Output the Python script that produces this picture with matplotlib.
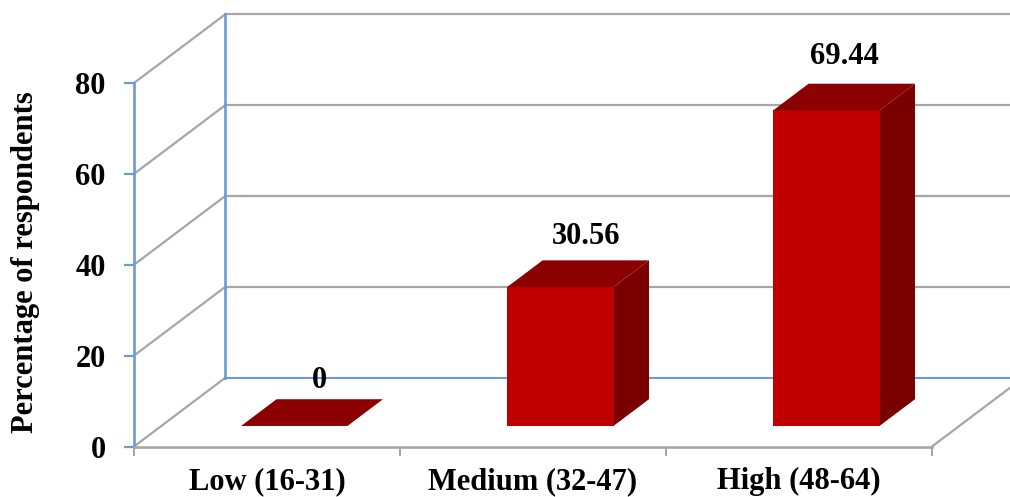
import matplotlib
matplotlib.use('Agg')
import matplotlib.pyplot as plt

plt.rcParams['font.family'] = ['Liberation Serif', 'DejaVu Serif']
plt.rcParams['font.weight'] = 'bold'

# data
categories = ['Low (16-31)', 'Medium (32-47)', 'High (48-64)']
values = [0, 30.56, 69.44]
value_labels = ['0', '30.56', '69.44']
y_ticks = [0, 20, 40, 60, 80]

# fake 3d: how far the back wall is shifted, in data units
DX = 91 / 266
DY = 15.08
BAR_W = 0.40
D_FRONT = 0.30
D_BACK = 0.69

GREY = '#a6a6a6'
BLUE = '#6b9bd2'
RED_FRONT = '#c00000'
RED_TOP = '#8b0000'
RED_SIDE = '#7a0000'
FS = 22


def proj(x, y, d):
    return x + d * DX, y + d * DY


def face(ax, pts, color, z):
    xs, ys = zip(*[proj(*p) for p in pts])
    ax.fill(xs, ys, color=color, lw=0, zorder=z, clip_on=False)


def line3d(ax, a, b, color, lw, z=1):
    xa, ya = proj(*a)
    xb, yb = proj(*b)
    ax.plot([xa, xb], [ya, yb], color=color, lw=lw, zorder=z, clip_on=False,
            solid_capstyle='projecting')


fig = plt.figure(figsize=(10.10, 4.97), dpi=100)
ax = fig.add_axes([134 / 1010, 50.5 / 497, 798 / 1010, 363.5 / 497])
ax.set_xlim(0, 3)
ax.set_ylim(0, 80)
ax.patch.set_visible(False)

n = len(categories)

# walls and gridlines
for t in y_ticks:
    line3d(ax, (0, t, 0), (0, t, 1), GREY, 1.6)
    if t > 0:
        line3d(ax, (0, t, 1), (n, t, 1), GREY, 1.6)
line3d(ax, (0, 0, 1), (n, 0, 1), BLUE, 1.5)
line3d(ax, (n, 0, 0), (n, 0, 1), GREY, 1.6)
line3d(ax, (0, 0, 1), (0, 80, 1), BLUE, 1.9, z=1.5)

# bars
for i, v in enumerate(values):
    x0 = i + 0.5 - BAR_W / 2
    x1 = i + 0.5 + BAR_W / 2
    if v > 0:
        face(ax, [(x1, 0, D_FRONT), (x1, 0, D_BACK), (x1, v, D_BACK), (x1, v, D_FRONT)], RED_SIDE, 3)
        face(ax, [(x0, 0, D_FRONT), (x1, 0, D_FRONT), (x1, v, D_FRONT), (x0, v, D_FRONT)], RED_FRONT, 4)
    face(ax, [(x0, v, D_FRONT), (x1, v, D_FRONT), (x1, v, D_BACK), (x0, v, D_BACK)], RED_TOP, 5)

# value labels sit a little off the bar centre in the original
label_dx = [7, 8, 0]
label_gap = [32, 37, 40]
for i, v in enumerate(values):
    ax.annotate(value_labels[i], proj(i + 0.5, v, 0.5),
                xytext=(label_dx[i] * 0.72, label_gap[i] * 0.72),
                textcoords='offset points', ha='center', va='center', fontsize=FS,
                annotation_clip=False, zorder=6)

# axes
for s in ['top', 'right']:
    ax.spines[s].set_visible(False)
ax.spines['left'].set_color(BLUE)
ax.spines['left'].set_linewidth(1.9)
ax.spines['bottom'].set_color(GREY)
ax.spines['bottom'].set_linewidth(1.9)

ax.set_yticks(y_ticks)
ax.tick_params(axis='y', length=7, width=1.6, color=BLUE, labelsize=FS, pad=13.5)
ax.set_xticks(range(n + 1))
ax.set_xticklabels([])
ax.tick_params(axis='x', which='major', length=6.5, width=1.4, color=GREY)
ax.set_xticks([i + 0.5 for i in range(n)], minor=True)
ax.set_xticklabels(categories, minor=True, fontsize=FS)
ax.tick_params(axis='x', which='minor', length=0, pad=15)
ax.set_ylabel('Percentage of respondents', fontsize=FS, fontweight='bold')
ax.yaxis.set_label_coords(-0.118, 0.5076)

fig.savefig('out.png', dpi=100)
